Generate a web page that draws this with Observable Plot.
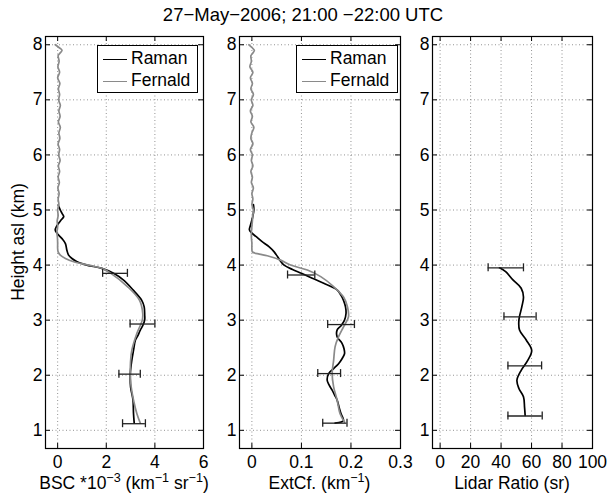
<!DOCTYPE html>
<html><head><meta charset="utf-8">
<script src="https://cdn.jsdelivr.net/npm/d3@7"></script>
<script src="https://cdn.jsdelivr.net/npm/@observablehq/plot@0.6"></script>
<style>
body{margin:0;background:#fff;}
#fig{position:relative;width:609px;height:498px;font-family:"Liberation Sans",Arial,Helvetica,sans-serif;color:#000;overflow:hidden;background:#fff}
.abs{position:absolute;white-space:nowrap;line-height:1}
.title{font-size:18.5px;left:0;width:606px;text-align:center;top:5.5px}
.xlab{font-size:17.5px;top:474.5px;transform:translateX(-50%)}
.xlab sup{font-size:0.72em;line-height:0;vertical-align:0.55em}
.ylab{font-size:17.5px;left:19px;top:242px;transform:translate(-50%,-50%) rotate(-90deg)}
.legend{border:1.5px solid #000;background:#fff;box-sizing:border-box;font-size:17.5px}
.legend .row{position:absolute;left:5px;height:20px;display:flex;align-items:center}
.legend .sw{display:inline-block;width:24px;height:0;margin-right:4px}
svg{position:absolute;top:0}
</style></head><body><div id="fig"></div><script>
// ---------- data ----------
const yTicks = [1, 2, 3, 4, 5, 6, 7, 8];
const bscTicks = [0, 2, 4, 6];
const extTicks = [0, 0.1, 0.2, 0.3];
const lrTicks = [0, 20, 40, 60, 80, 100];
const seriesNames = ["Raman", "Fernald"];

// Backscatter coefficient (x10^-3 km^-1 sr^-1)
const bscRamanH = [5.08, 5.0, 4.94, 4.88, 4.82, 4.76, 4.70, 4.64, 4.58, 4.48, 4.39, 4.27, 4.18, 4.12, 4.06, 4.00, 3.94, 3.85, 3.73, 3.55, 3.36, 3.24, 3.10, 3.00, 2.90, 2.82, 2.72, 2.64, 2.45, 2.27, 2.04, 1.79, 1.55, 1.31, 1.13];
const bscRaman = [0.03, 0.11, 0.18, 0.25, 0.14, 0.04, -0.05, -0.10, -0.03, 0.18, 0.32, 0.38, 0.45, 0.59, 0.80, 1.20, 1.82, 2.30, 2.70, 3.10, 3.46, 3.56, 3.58, 3.58, 3.50, 3.40, 3.30, 3.20, 3.12, 3.05, 2.99, 3.00, 3.10, 3.12, 3.15];
const bscFernaldH = [8.00, 7.95, 7.90, 7.85, 7.80, 7.70, 7.60, 7.50, 7.40, 7.30, 7.20, 7.10, 7.00, 6.90, 6.80, 6.70, 6.60, 6.50, 6.40, 6.30, 6.20, 6.10, 6.00, 5.90, 5.80, 5.70, 5.60, 5.50, 5.40, 5.30, 5.20, 5.10, 5.00, 4.90, 4.80, 4.70, 4.60, 4.50, 4.40, 4.30, 4.24, 4.18, 4.12, 4.06, 4.00, 3.94, 3.85, 3.61, 3.36, 3.12, 3.00, 2.76, 2.45, 2.15, 1.85, 1.55, 1.30, 1.13];
const bscFernald = [-0.10, 0.05, 0.18, 0.10, 0.02, 0.06, 0.01, 0.08, 0.00, 0.09, 0.03, 0.08, 0.04, 0.11, 0.05, 0.10, 0.03, 0.11, 0.05, 0.09, 0.02, 0.08, 0.04, 0.10, 0.03, 0.08, 0.02, 0.07, 0.01, 0.06, 0.02, 0.05, 0.00, 0.02, -0.02, 0.00, -0.03, -0.01, 0.00, 0.00, 0.02, 0.11, 0.32, 0.66, 1.27, 1.82, 2.19, 2.87, 3.37, 3.50, 3.48, 3.26, 3.05, 2.99, 3.01, 3.12, 3.26, 3.40];
const bscErrH = [3.85, 2.93, 2.02, 1.12];
const bscErrLo = [1.85, 2.98, 2.52, 2.67];
const bscErrHi = [2.87, 4.00, 3.40, 3.61];

// Extinction coefficient (km^-1)
const extRamanH = [5.10, 5.00, 4.85, 4.72, 4.64, 4.58, 4.52, 4.43, 4.33, 4.24, 4.15, 4.07, 4.00, 3.92, 3.85, 3.76, 3.67, 3.55, 3.45, 3.36, 3.24, 3.12, 3.00, 2.90, 2.82, 2.70, 2.58, 2.48, 2.39, 2.30, 2.21, 2.12, 2.03, 1.91, 1.82, 1.73, 1.64, 1.55, 1.42, 1.30, 1.18, 1.15, 1.13];
const extRaman = [0.003, 0.004, 0.001, -0.003, -0.005, 0.000, 0.008, 0.020, 0.035, 0.045, 0.052, 0.058, 0.065, 0.082, 0.100, 0.122, 0.145, 0.172, 0.180, 0.185, 0.189, 0.190, 0.187, 0.180, 0.172, 0.172, 0.182, 0.186, 0.187, 0.182, 0.175, 0.165, 0.155, 0.152, 0.156, 0.162, 0.167, 0.172, 0.176, 0.180, 0.185, 0.180, 0.168];
const extFernaldH = [8.00, 7.95, 7.90, 7.85, 7.80, 7.70, 7.60, 7.50, 7.40, 7.30, 7.20, 7.10, 7.00, 6.90, 6.80, 6.70, 6.60, 6.50, 6.40, 6.30, 6.20, 6.10, 6.00, 5.90, 5.80, 5.70, 5.60, 5.50, 5.40, 5.30, 5.20, 5.10, 5.00, 4.90, 4.80, 4.70, 4.60, 4.50, 4.40, 4.30, 4.24, 4.20, 4.17, 4.09, 4.00, 3.91, 3.79, 3.61, 3.42, 3.24, 3.06, 2.88, 2.70, 2.52, 2.27, 2.03, 1.79, 1.55, 1.30, 1.15];
const extFernald = [-0.006, 0.000, 0.005, 0.002, -0.002, -0.001, -0.004, 0.002, -0.003, 0.001, -0.002, 0.003, -0.001, 0.002, -0.003, 0.001, -0.002, 0.004, 0.000, -0.002, 0.002, -0.003, 0.001, -0.001, 0.002, -0.002, 0.001, -0.001, 0.003, 0.000, 0.002, 0.000, 0.003, 0.002, 0.001, 0.000, -0.001, -0.001, 0.000, 0.000, 0.001, 0.015, 0.031, 0.058, 0.078, 0.112, 0.139, 0.165, 0.185, 0.193, 0.195, 0.185, 0.175, 0.168, 0.165, 0.162, 0.165, 0.172, 0.178, 0.187];
const extErrH = [3.82, 2.92, 2.03, 1.13];
const extErrLo = [0.072, 0.153, 0.133, 0.143];
const extErrHi = [0.127, 0.207, 0.179, 0.192];

// Lidar ratio (sr)
const lrH = [3.95, 3.88, 3.73, 3.58, 3.42, 3.24, 3.00, 2.82, 2.64, 2.45, 2.27, 2.09, 1.91, 1.76, 1.61, 1.42, 1.27];
const lr = [39, 43, 47.8, 53.2, 54.7, 53.6, 51.7, 52.1, 56.5, 60.1, 57.5, 53.2, 50.4, 51.7, 54.7, 55.4, 55.8];
const lrErrH = [3.95, 3.06, 2.17, 1.26];
const lrErrLo = [31.5, 41.9, 44.5, 44.5];
const lrErrHi = [54.7, 63.0, 66.6, 67.0];

// ---------- helpers ----------
const pts = (H, V) => H.map((h, i) => ({h, v: V[i]}));
const errs = (H, L, U) => H.map((h, i) => ({h, lo: L[i], hi: U[i]}));
const FONT = '"Liberation Sans", Arial, Helvetica, sans-serif';
const fmt = d => String(d);
const fig = document.getElementById("fig");
const ML = 30, MR = 10, MT = 36, MB = 32, HT = 480;

function panel({left, plotW, xDomain, xTicks, lines, err, curve}) {
  const plotH = HT - MT - MB;
  const marks = [
    Plot.gridX(xTicks, {stroke: "#777", strokeOpacity: 1, strokeWidth: 0.8, strokeDasharray: "1,2.5"}),
    Plot.gridY(yTicks, {stroke: "#777", strokeOpacity: 1, strokeWidth: 0.8, strokeDasharray: "1,2.5"}),
    Plot.tickX(xTicks, {x: d => d, insetTop: plotH - 5, stroke: "#000"}),
    Plot.tickX(xTicks, {x: d => d, insetBottom: plotH - 5, stroke: "#000"}),
    Plot.tickY(yTicks, {y: d => d, insetRight: plotW - 5, stroke: "#000"}),
    Plot.tickY(yTicks, {y: d => d, insetLeft: plotW - 5, stroke: "#000"}),
    Plot.axisX(xTicks, {tickSize: 0, tickPadding: 7, label: null, fontSize: 17.5, fill: "#000", tickFormat: fmt}),
    Plot.axisY(yTicks, {tickSize: 0, tickPadding: 3, label: null, fontSize: 17.5, fill: "#000", tickFormat: fmt})
  ];
  for (const l of lines) marks.push(Plot.line(l.data, {x: "v", y: "h", stroke: l.color, strokeWidth: 1.7, curve}));
  marks.push(
    Plot.ruleY(err, {y: "h", x1: "lo", x2: "hi", stroke: "#222", strokeWidth: 1.3}),
    Plot.ruleX(err, {x: "lo", y1: "h", y2: "h", insetTop: -4, insetBottom: -4, stroke: "#222", strokeWidth: 1.3}),
    Plot.ruleX(err, {x: "hi", y1: "h", y2: "h", insetTop: -4, insetBottom: -4, stroke: "#222", strokeWidth: 1.3}),
    Plot.frame({stroke: "#000", strokeWidth: 1.2})
  );
  const svg = Plot.plot({
    width: ML + plotW + MR, height: HT,
    marginLeft: ML, marginRight: MR, marginTop: MT, marginBottom: MB,
    style: {background: "transparent", fontFamily: FONT, fontSize: "17.5px", overflow: "visible", color: "#000"},
    x: {domain: xDomain},
    y: {domain: [0.67, 8.15]},
    marks
  });
  svg.style.left = (left - ML) + "px";
  fig.appendChild(svg);
}

panel({left: 45, plotW: 158, xDomain: [-0.5, 6], xTicks: bscTicks, curve: "catmull-rom",
  lines: [{data: pts(bscRamanH, bscRaman), color: "#000"}, {data: pts(bscFernaldH, bscFernald), color: "#8a8a8a"}],
  err: errs(bscErrH, bscErrLo, bscErrHi)});
panel({left: 239, plotW: 161, xDomain: [-0.025, 0.3], xTicks: extTicks, curve: "catmull-rom",
  lines: [{data: pts(extRamanH, extRaman), color: "#000"}, {data: pts(extFernaldH, extFernald), color: "#8a8a8a"}],
  err: errs(extErrH, extErrLo, extErrHi)});
panel({left: 432, plotW: 160, xDomain: [-5, 100], xTicks: lrTicks, curve: "catmull-rom",
  lines: [{data: pts(lrH, lr), color: "#000"}],
  err: errs(lrErrH, lrErrLo, lrErrHi)});

// ---------- text ----------
function addDiv(cls, html, style) {
  const d = document.createElement("div");
  d.className = "abs " + cls;
  d.innerHTML = html;
  Object.assign(d.style, style || {});
  fig.appendChild(d);
  return d;
}
addDiv("title", "27\u2212May\u22122006; 21:00 \u221222:00 UTC");
addDiv("ylab", "Height asl (km)");
addDiv("xlab", "BSC *10<sup>\u22123</sup> (km<sup>\u22121</sup> sr<sup>\u22121</sup>)", {left: "124px"});
addDiv("xlab", "ExtCf. (km<sup>\u22121</sup>)", {left: "319.5px"});
addDiv("xlab", "Lidar Ratio (sr)", {left: "512px"});

function legend(left, width) {
  const colors = ["#000", "#8a8a8a"];
  const lg = addDiv("legend", "", {left: left + "px", top: "45px", width: width + "px", height: "48px"});
  seriesNames.forEach((name, i) => {
    const r = document.createElement("div");
    r.className = "row";
    r.style.top = (3 + i * 22) + "px";
    r.innerHTML = `<span class="sw" style="border-top:1.7px solid ${colors[i]}"></span><span>${name}</span>`;
    lg.appendChild(r);
  });
}
legend(97, 101);
legend(296, 102);
</script></body></html>
